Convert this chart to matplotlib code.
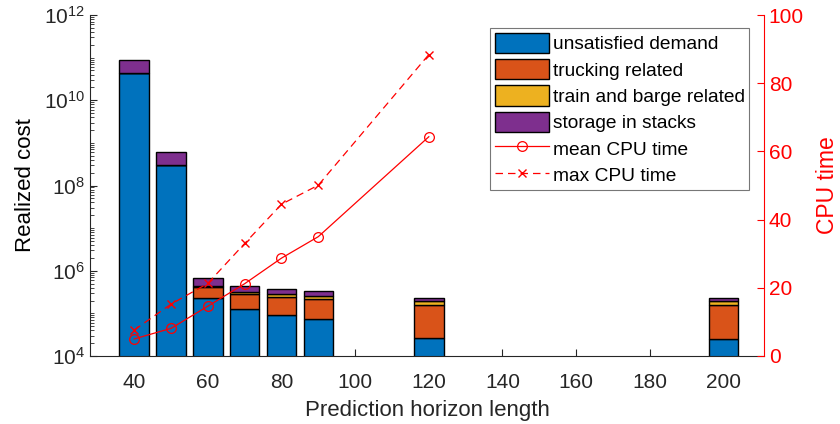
import matplotlib
matplotlib.use("Agg")
import matplotlib.pyplot as plt
from matplotlib.ticker import FixedLocator, LogLocator, NullFormatter

plt.rcParams['font.family'] = ['Liberation Sans', 'DejaVu Sans']
plt.rcParams['mathtext.fontset'] = 'custom'
plt.rcParams['mathtext.rm'] = 'Liberation Sans'
plt.rcParams['mathtext.it'] = 'Liberation Sans'

# prediction horizon lengths
horizon = [40, 50, 60, 70, 80, 90, 120, 200]

# realized cost components (stacked)
unsatisfied = [4.4e10, 3.0e8, 2.33e5, 1.24e5, 9.0e4, 7.2e4, 2.63e4, 2.5e4]
trucking = [2.0e5, 1.8e5, 1.74e5, 1.61e5, 1.48e5, 1.42e5, 1.29e5, 1.3e5]
train_barge = [4.0e4, 3.5e4, 3.2e4, 3.0e4, 4.7e4, 4.3e4, 4.0e4, 4.2e4]
storage = [4.4e10, 3.0e8, 2.37e5, 1.2e5, 8.2e4, 7.2e4, 3.1e4, 2.9e4]

# CPU times
cpu_horizon = [40, 50, 60, 70, 80, 90, 120]
mean_cpu = [5.0, 8.1, 14.6, 21.2, 28.7, 35.0, 64.3]
max_cpu = [7.6, 15.2, 21.3, 33.0, 44.5, 50.1, 88.4]

labels = ["unsatisfied demand", "trucking related",
          "train and barge related", "storage in stacks"]
colors = ["#0072BD", "#D95319", "#EDB120", "#7E2F8E"]
axcol = "#262626"

fig = plt.figure(figsize=(8.4, 4.24), dpi=100)
ax = fig.add_axes([0.1071, 0.1604, 0.8024, 0.8042])

bottom = [1.0] * len(horizon)
handles = []
for vals, lab, c in zip([unsatisfied, trucking, train_barge, storage], labels, colors):
    b = ax.bar(horizon, vals, width=8, bottom=bottom, color=c,
               edgecolor="black", linewidth=1.0, label=lab, zorder=2)
    handles.append(b)
    bottom = [bt + v for bt, v in zip(bottom, vals)]

ax.set_yscale("log")
ax.set_ylim(1e4, 1e12)
ax.set_xlim(28, 211)
ax.set_xticks([40, 60, 80, 100, 120, 140, 160, 180, 200])
ax.yaxis.set_major_locator(FixedLocator([1e4, 1e6, 1e8, 1e10, 1e12]))
ax.set_yticklabels([r"$10^{4}$", r"$10^{6}$", r"$10^{8}$", r"$10^{10}$", r"$10^{12}$"])
ax.yaxis.set_minor_locator(LogLocator(base=10, subs=[1, 2, 3, 4, 5, 6, 7, 8, 9], numticks=20))
ax.yaxis.set_minor_formatter(NullFormatter())
ax.tick_params(axis="both", direction="in", colors=axcol, labelsize=15, length=5, width=0.8)
ax.tick_params(axis="y", which="minor", direction="in", length=3, width=0.6, colors=axcol)
ax.tick_params(axis="x", pad=12)
ax.spines["top"].set_visible(False)
ax.spines["right"].set_visible(False)
for s in ["left", "bottom"]:
    ax.spines[s].set_color(axcol)
    ax.spines[s].set_linewidth(0.8)
ax.set_xlabel("Prediction horizon length", fontsize=16, color=axcol, labelpad=6)
ax.set_ylabel("Realized cost", fontsize=16, color="black", labelpad=6)

ax2 = ax.twinx()
l1, = ax2.plot(cpu_horizon, mean_cpu, color="red", linewidth=0.9, marker="o",
               markersize=7, markerfacecolor="none", markeredgewidth=0.9,
               label="mean CPU time")
l2, = ax2.plot(cpu_horizon, max_cpu, color="red", linewidth=0.9, linestyle=(0, (6, 4)),
               marker="x", markersize=6, markeredgewidth=1.0, label="max CPU time")
ax2.set_ylim(0, 100)
ax2.set_yticks([0, 20, 40, 60, 80, 100])
ax2.tick_params(axis="y", direction="in", colors="red", labelsize=15, length=5, width=0.8)
for s in ["top", "left", "bottom"]:
    ax2.spines[s].set_visible(False)
ax2.spines["right"].set_color("red")
ax2.spines["right"].set_linewidth(0.8)
ax2.set_ylabel("CPU time", fontsize=16.5, color="red", labelpad=9)

leg = ax2.legend(handles + [l1, l2], labels + ["mean CPU time", "max CPU time"],
                 loc="upper right", bbox_to_anchor=(0.9785, 0.962),
                 fontsize=13.8, frameon=True, fancybox=False, borderpad=0.25,
                 handlelength=2.8, handleheight=1.25, handletextpad=0.2,
                 labelspacing=0.3, borderaxespad=0.0)
leg.get_frame().set_edgecolor("#555555")
leg.get_frame().set_linewidth(0.8)

fig.savefig("out.png", dpi=100)
